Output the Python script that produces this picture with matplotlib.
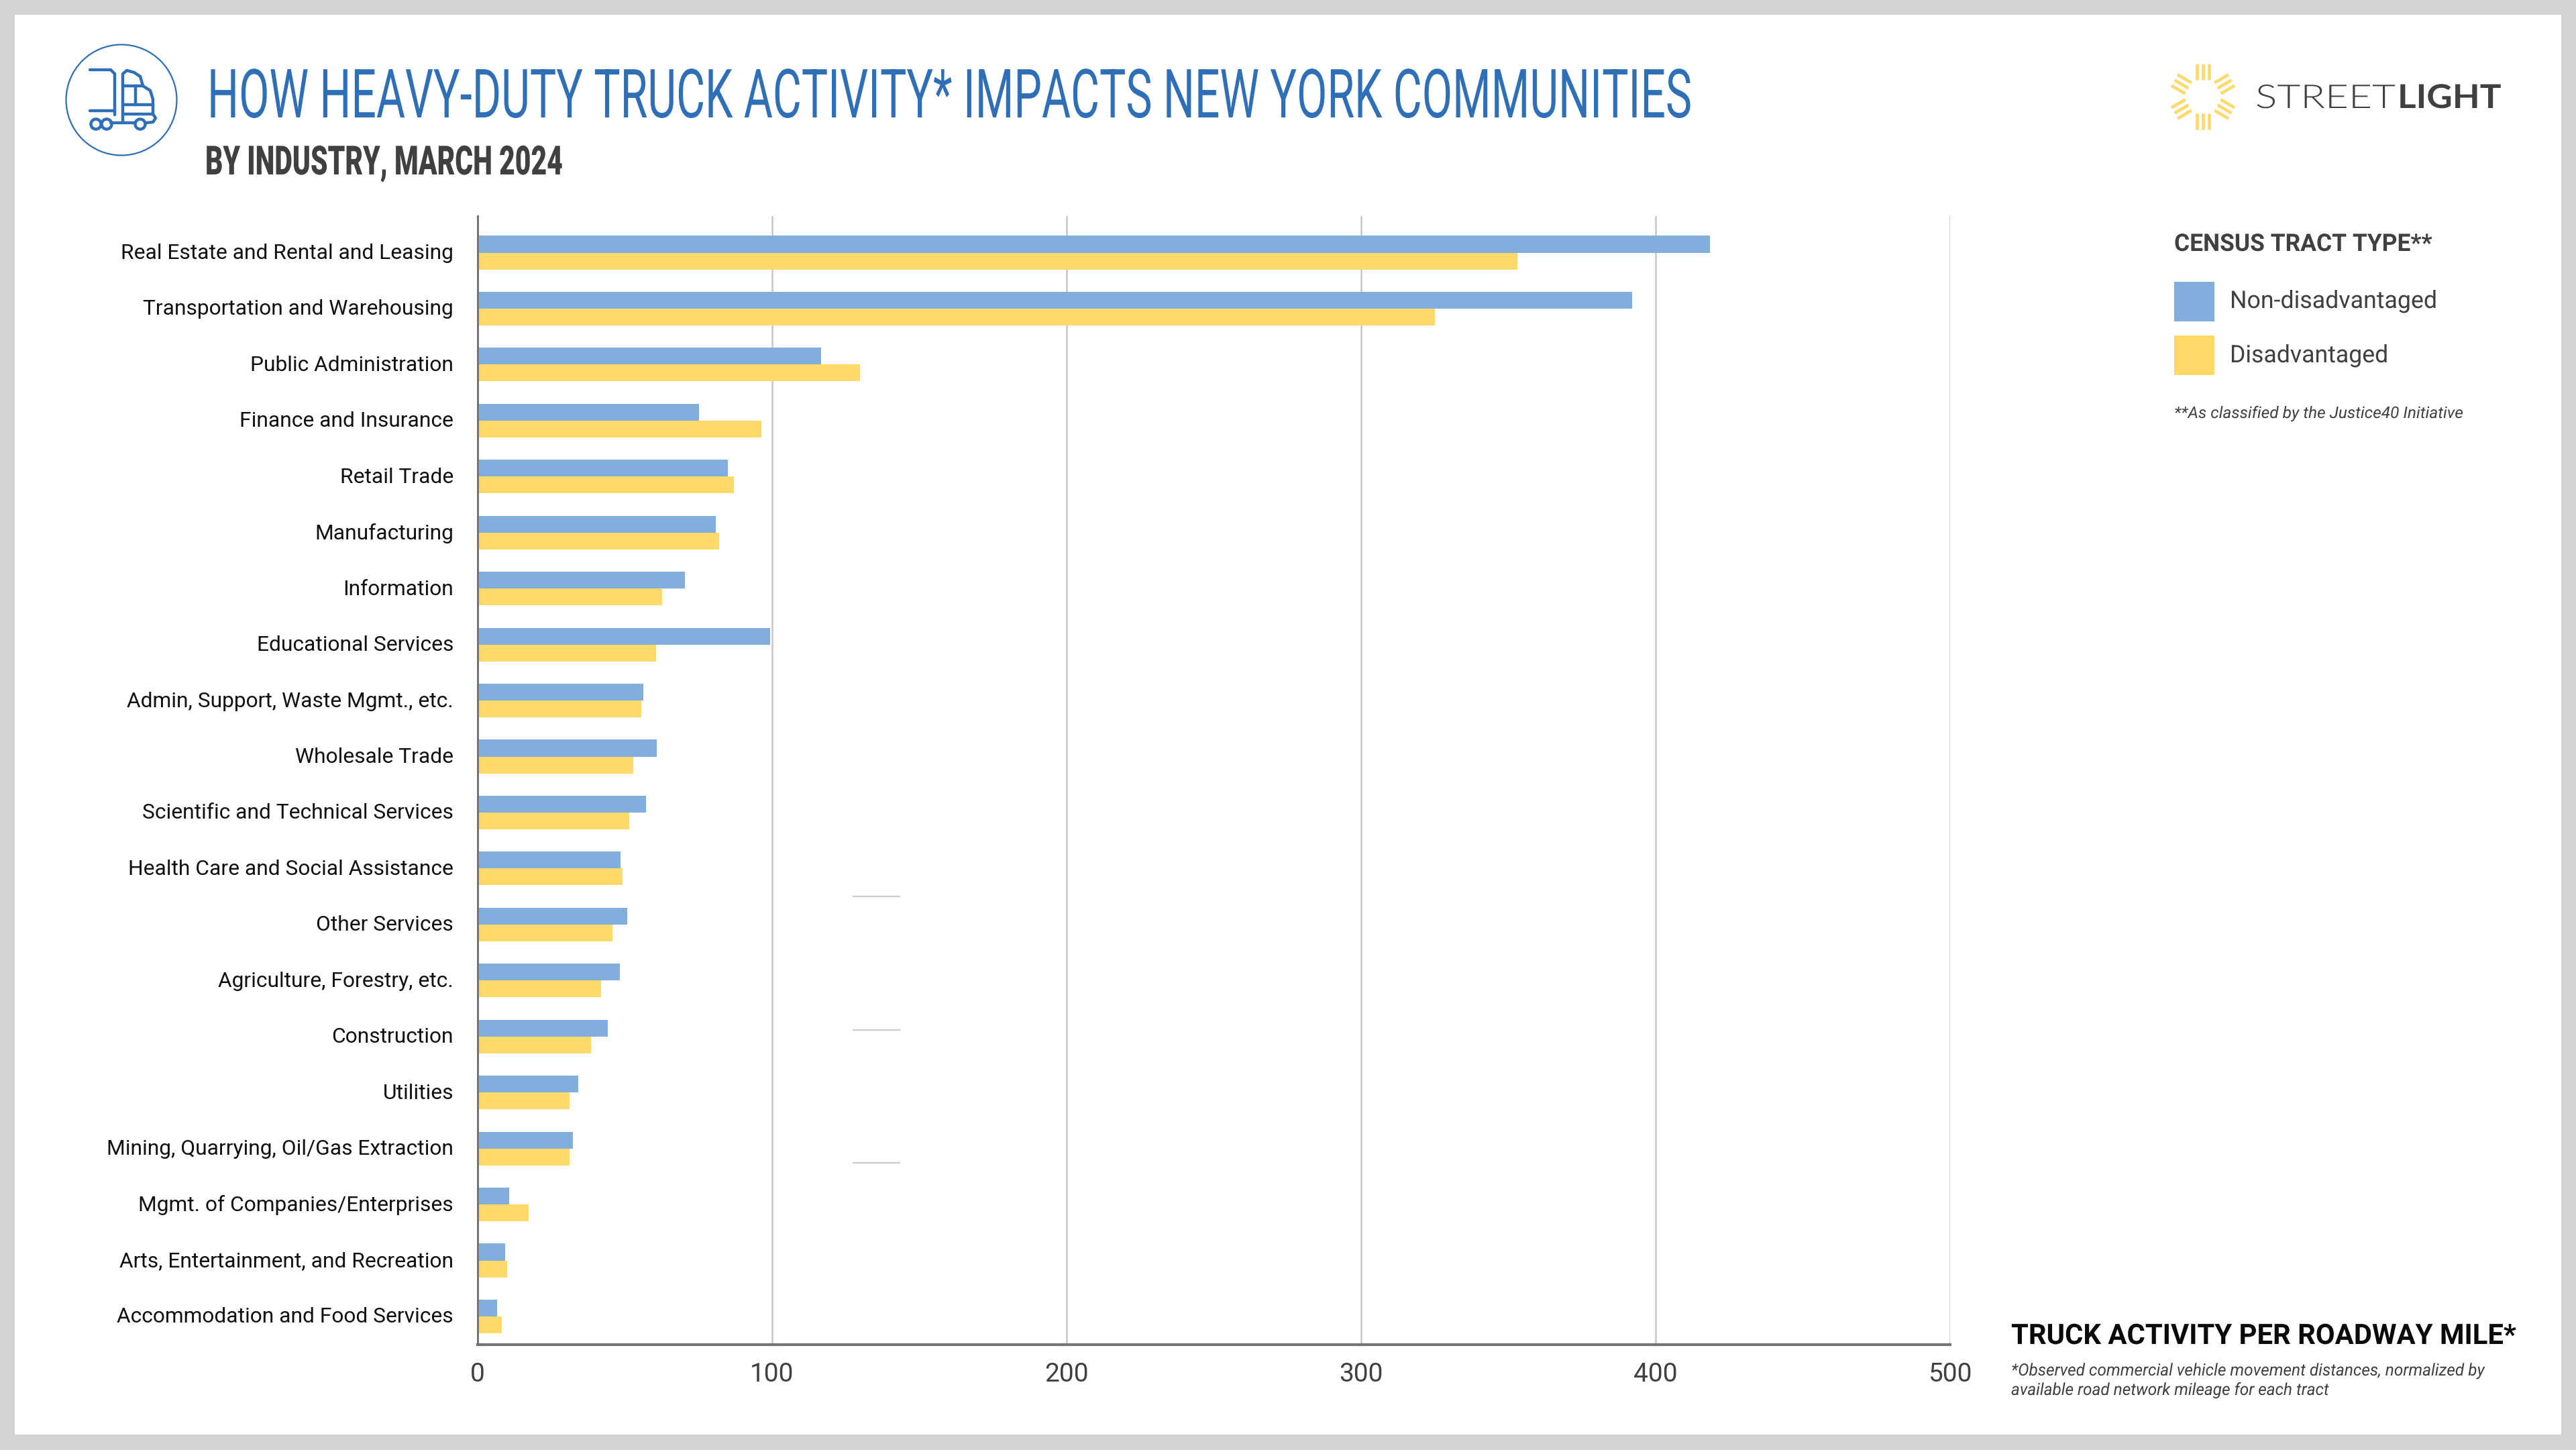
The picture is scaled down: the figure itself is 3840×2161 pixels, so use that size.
#!/usr/bin/env python
"""Truck activity per roadway mile by industry, New York, March 2024."""
import numpy as np
import matplotlib
matplotlib.use("Agg")
import matplotlib.pyplot as plt
from matplotlib.patches import Circle, Rectangle
from matplotlib.patheffects import AbstractPathEffect
from matplotlib.transforms import Affine2D

W, H = 3841, 2161
plt.rcParams["font.family"] = ["Roboto", "DejaVu Sans"]

industries = ["Real Estate and Rental and Leasing", "Transportation and Warehousing",
              "Public Administration", "Finance and Insurance", "Retail Trade",
              "Manufacturing", "Information", "Educational Services",
              "Admin, Support, Waste Mgmt., etc.", "Wholesale Trade",
              "Scientific and Technical Services", "Health Care and Social Assistance",
              "Other Services", "Agriculture, Forestry, etc.", "Construction", "Utilities",
              "Mining, Quarrying, Oil/Gas Extraction", "Mgmt. of Companies/Enterprises",
              "Arts, Entertainment, and Recreation", "Accommodation and Food Services"]
non_disadvantaged = [418.5, 392, 116.6, 75.2, 85, 80.8, 70.3, 99.3, 56.2, 60.9,
                     57.2, 48.6, 50.9, 48.3, 44.2, 34.2, 32.3, 10.6, 9.4, 6.7]
disadvantaged = [353, 325, 129.9, 96.4, 87, 82, 62.7, 60.7, 55.6, 52.8,
                 51.4, 49.3, 45.8, 42, 38.4, 31.2, 31.2, 17.3, 10, 8.3]
x_ticks = [0, 100, 200, 300, 400, 500]

BLUE = "#82aede"
YELLOW = "#ffda6a"
TITLE_BLUE = "#2f6fb7"
DARK = "#404040"
GRID = "#c6c6c6"


class Stretch(AbstractPathEffect):
    """Scale a text about a display point, to stand in for condensed fonts."""

    def __init__(self, sx, sy, x0, y0):
        super().__init__()
        self.sx, self.sy, self.x0, self.y0 = sx, sy, x0, y0

    def draw_path(self, renderer, gc, tpath, affine, rgbFace=None):
        t = (Affine2D().translate(-self.x0, -self.y0).scale(self.sx, self.sy)
             .translate(self.x0, self.y0))
        renderer.draw_path(gc, tpath, affine + t, rgbFace)


fig = plt.figure(figsize=(W / 100, H / 100), dpi=100, facecolor="#d1d3d4")
bg = fig.add_axes([0, 0, 1, 1], zorder=0)
bg.set_xlim(0, W); bg.set_ylim(H, 0); bg.axis("off")
bg.add_patch(Rectangle((22, 22), 3818 - 22, 2138 - 22, color="white", lw=0))
rend = fig.canvas.get_renderer()


def fit_text(x0, x1, y, s, px, sy=1, **kw):
    """Text with baseline y, em size px, drawn so it spans x0..x1."""
    t = bg.text(x0, y, s, fontsize=px * 0.72, va="baseline", ha="left", **kw)
    w = t.get_window_extent(rend).width
    t.set_path_effects([Stretch((x1 - x0) / w, sy, x0, H - y)])
    return t


# header
fit_text(309, 2524, 175, "HOW HEAVY-DUTY TRUCK ACTIVITY* IMPACTS NEW YORK COMMUNITIES",
         66, sy=101 / 66, color=TITLE_BLUE)
fit_text(306, 839, 260, "BY INDUSTRY, MARCH 2024", 60, color=DARK, fontweight=900)

# truck icon, traced in px
bg.add_patch(Circle((181, 149), 82.5, fill=False, ec=TITLE_BLUE, lw=1.6))
icon = [[(134, 104), (165, 104), (171, 110), (171, 171)],
        [(134, 165), (171, 165)],
        [(183, 183), (183, 110), (189, 105), (200, 108), (209, 114), (213, 128)],
        [(183, 128), (213, 128), (224, 135), (228, 148), (228, 170)],
        [(202, 128), (202, 156)], [(183, 156), (228, 156)],
        [(183, 170), (228, 170), (232, 176), (228, 182), (218, 183)],
        [(165, 183), (202, 183)]]
for seg in icon:
    xs, ys = zip(*seg)
    bg.plot(xs, ys, color=TITLE_BLUE, lw=3.2, solid_capstyle="round", solid_joinstyle="round")
for cx in (143, 159, 209):
    bg.add_patch(Circle((cx, 185), 7.5, fill=False, ec=TITLE_BLUE, lw=3.2))

# logo sun
for ang in np.radians([90, 30, 150, 210, 270, 330]):
    d = np.array([np.cos(ang), -np.sin(ang)])
    n = np.array([-d[1], d[0]])
    for off in (-9.3, 0, 9.3):
        a = np.array([3284, 144]) + d * 25 + n * off
        b = np.array([3284, 144]) + d * 49 + n * off
        bg.plot([a[0], b[0]], [a[1], b[1]], color=YELLOW, lw=3.3, solid_capstyle="butt")
fit_text(3362, 3571, 161, "STREET", 49, color=DARK, family=["Lato", "DejaVu Sans"], fontweight=300)
fit_text(3574, 3729, 161, "LIGHT", 49, color=DARK, family=["Lato", "DejaVu Sans"], fontweight="bold")

# chart
row_px, top_px, bottom_px = 83.4, 322, 2004
ax = fig.add_axes([712 / W, 1 - bottom_px / H, (2907 - 712) / W, (bottom_px - top_px) / H], zorder=2)
ax.patch.set_alpha(0)
y = np.arange(len(industries))
ax.barh(y - 0.15, non_disadvantaged, height=0.3, color=BLUE, zorder=3)
ax.barh(y + 0.15, disadvantaged, height=0.3, color=YELLOW, zorder=3)
ax.set_xlim(0, 500)
ax.set_ylim(19 + (bottom_px - 1962) / row_px, -(376.5 - top_px) / row_px)
ax.set_xticks(x_ticks)
ax.set_yticks(y, industries)
ax.tick_params(axis="x", length=0, pad=19, labelsize=28, labelcolor=DARK)
ax.tick_params(axis="y", length=0, pad=26, labelsize=22.9, labelcolor="#111111")
for lbl in ax.get_yticklabels():
    lbl.set_transform(lbl.get_transform() + Affine2D().translate(0, 2))
ax.grid(axis="x", color=GRID, lw=1.8, zorder=1)
ax.set_axisbelow(True)
for side in ("top", "right"):
    ax.spines[side].set_visible(False)
ax.spines["left"].set_color("#757575"); ax.spines["left"].set_linewidth(2.2)
ax.spines["bottom"].set_color("#757575"); ax.spines["bottom"].set_linewidth(3)
ax.spines["left"].set_zorder(4)

# stray dashes sitting in the source image
for yy in (1336, 1535, 1733):
    bg.plot([1272, 1341], [yy, yy], color="#cccccc", lw=1.6)

# legend
fit_text(3241, 3626, 374, "CENSUS TRACT TYPE**", 36, color=DARK, fontweight="bold")
bg.add_patch(Rectangle((3241, 420), 60, 59, color=BLUE, lw=0))
bg.add_patch(Rectangle((3241, 500), 60, 59, color=YELLOW, lw=0))
fit_text(3324, 3633, 459, "Non-disadvantaged", 36, color=DARK)
fit_text(3324, 3560, 540, "Disadvantaged", 36, color=DARK)
fit_text(3241, 3672, 623, "**As classified by the Justice40 Initiative", 24,
         color=DARK, style="italic")

# axis note
fit_text(2998, 3750, 2003, "TRUCK ACTIVITY PER ROADWAY MILE*", 42, color="#0a0a0a", fontweight="bold")
fit_text(2998, 3704, 2050, "*Observed commercial vehicle movement distances, normalized by", 25,
         color=DARK, style="italic")
fit_text(2998, 3472, 2079, "available road network mileage for each tract", 25,
         color=DARK, style="italic")

fig.savefig("out.png", dpi=100, facecolor=fig.get_facecolor())
